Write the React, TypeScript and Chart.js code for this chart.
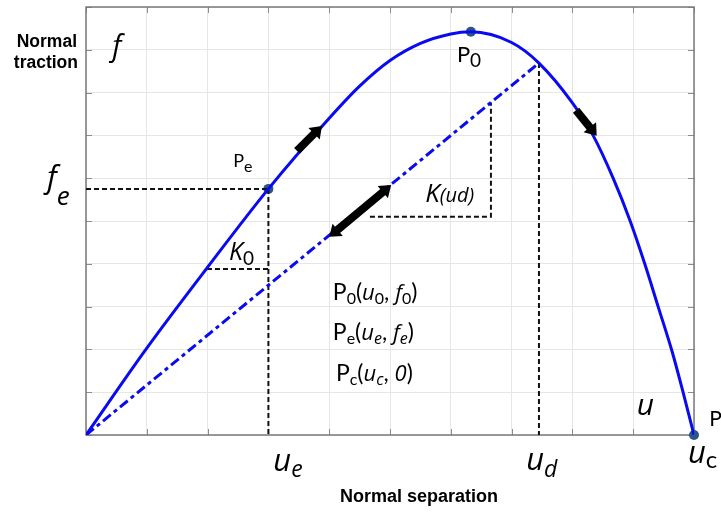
import React, { useEffect, useRef } from "react";
import { Chart, registerables } from "chart.js";

Chart.register(...registerables);

// Traction–separation curve (normalised units)
const curveU = [0, 1, 2, 3, 4, 4.5, 5, 5.5, 6, 6.33, 7, 7.45, 8, 8.34, 8.67, 8.95, 9.19, 9.41, 9.64, 9.82, 10];
const curveF = [0, 2.03, 3.92, 5.75, 7.4, 8.15, 8.75, 9.15, 9.37, 9.42, 9.17, 8.69, 7.76, 7.0, 6.0, 5.0, 4.0, 3.0, 1.95, 1.0, 0];

// Key points
const uE = 3, fE = 5.75;
const u0 = 6.33, f0 = 9.42;
const uD = 7.45, fD = 8.69;
const uC = 10, fC = 0;

// Stiffness triangles
const k0Tri = [[1.99, 3.88], [3, 3.88]];
const kudTri = [[4.67, 5.1], [6.66, 5.1], [6.66, 7.77]];

// Arrows: [fromU, fromF, toU, toF, doubleHeaded]
const arrows: [number, number, number, number, boolean][] = [
  [3.47, 6.64, 3.88, 7.22, false],
  [4.0, 4.63, 5.02, 5.84, true],
  [8.06, 7.59, 8.4, 6.99, false],
];

const axisTicks = [0, 1, 2, 3, 4, 5, 6, 7, 8, 9, 10];

const UP = (s: number) => `${s}px Lato`;
const IT = (s: number) => `italic ${s}px "Open Sans"`;

type Part = { t: string; f: string; dy?: number };
// Labels: [u, f (left / baseline in data units), parts]
const labels: [number, number, Part[]][] = [
  [0.43, 8.86, [{ t: "f", f: IT(29) }]],
  [-0.64, 5.77, [{ t: "f", f: IT(31) }, { t: "e", f: IT(26), dy: 17 }]],
  [2.42, 6.26, [{ t: "P", f: UP(18) }, { t: "e", f: UP(16), dy: 5 }]],
  [6.1, 8.71, [{ t: "P", f: UP(22) }, { t: "0", f: UP(19), dy: 5 }]],
  [2.35, 4.09, [{ t: "K", f: IT(25) }, { t: "0", f: UP(19), dy: 5 }]],
  [5.58, 5.44, [{ t: "K", f: IT(26) }, { t: "(ud)", f: IT(20) }]],
  [4.06, 3.15, [
    { t: "P", f: UP(23) }, { t: "0", f: UP(16), dy: 4 }, { t: "(", f: UP(23) },
    { t: "u", f: IT(22) }, { t: "0", f: UP(16), dy: 4 }, { t: ", ", f: UP(23) },
    { t: "f", f: IT(22) }, { t: "0", f: UP(16), dy: 4 }, { t: ")", f: UP(23) },
  ]],
  [4.06, 2.22, [
    { t: "P", f: UP(23) }, { t: "e", f: UP(16), dy: 4 }, { t: "(", f: UP(23) },
    { t: "u", f: IT(22) }, { t: "e", f: IT(16), dy: 4 }, { t: ", ", f: UP(23) },
    { t: "f", f: IT(22) }, { t: "e", f: IT(16), dy: 4 }, { t: ")", f: UP(23) },
  ]],
  [4.11, 1.26, [
    { t: "P", f: UP(23) }, { t: "c", f: UP(16), dy: 4 }, { t: "(", f: UP(23) },
    { t: "u", f: IT(22) }, { t: "c", f: IT(16), dy: 4 }, { t: ", ", f: UP(23) },
    { t: "0", f: IT(22) }, { t: ")", f: UP(23) },
  ]],
  [9.06, 0.47, [{ t: "u", f: IT(30) }]],
  [10.25, 0.21, [{ t: "P", f: UP(21) }]],
  [3.08, -0.84, [{ t: "u", f: IT(31) }, { t: "e", f: IT(23), dy: 6 }]],
  [7.24, -0.82, [{ t: "u", f: IT(31) }, { t: "d", f: IT(23), dy: 7 }]],
  [9.9, -0.65, [{ t: "u", f: IT(31) }, { t: "c", f: UP(24), dy: 5 }]],
];

const drawParts = (ctx: CanvasRenderingContext2D, parts: Part[], x: number, y: number) => {
  let cx = x;
  for (const p of parts) {
    ctx.font = p.f;
    ctx.fillText(p.t, cx, y + (p.dy || 0));
    cx += ctx.measureText(p.t).width;
  }
};

const drawArrow = (ctx: CanvasRenderingContext2D, x1: number, y1: number, x2: number, y2: number, both: boolean) => {
  const ang = Math.atan2(y2 - y1, x2 - x1);
  const hl = 11, hw = 8, sw = 4;
  const len = Math.hypot(x2 - x1, y2 - y1);
  ctx.save();
  ctx.translate(x1, y1);
  ctx.rotate(ang);
  ctx.fillStyle = "#000";
  const s0 = both ? hl - 1 : 0;
  ctx.fillRect(s0, -sw, len - hl + 1 - s0, sw * 2);
  ctx.beginPath();
  ctx.moveTo(len, 0);
  ctx.lineTo(len - hl, -hw);
  ctx.lineTo(len - hl, hw);
  ctx.closePath();
  ctx.fill();
  if (both) {
    ctx.beginPath();
    ctx.moveTo(0, 0);
    ctx.lineTo(hl, -hw);
    ctx.lineTo(hl, hw);
    ctx.closePath();
    ctx.fill();
  }
  ctx.restore();
};

const decor = {
  id: "decor",
  beforeDatasetsDraw(chart: any) {
    const { ctx, chartArea: a, scales } = chart;
    const xs = scales.x, ys = scales.y;
    ctx.save();
    ctx.strokeStyle = "#8c8c8c";
    ctx.lineWidth = 1;
    ctx.beginPath();
    for (const t of axisTicks) {
      const px = Math.round(xs.getPixelForValue(t)) + 0.5;
      ctx.moveTo(px, a.bottom);
      ctx.lineTo(px, a.bottom - 6);
      ctx.moveTo(px, a.top);
      ctx.lineTo(px, a.top + 6);
      const py = Math.round(ys.getPixelForValue(t)) + 0.5;
      ctx.moveTo(a.left, py);
      ctx.lineTo(a.left + 6, py);
      ctx.moveTo(a.right, py);
      ctx.lineTo(a.right - 6, py);
    }
    ctx.stroke();
    ctx.strokeStyle = "#7a7a7a";
    ctx.lineWidth = 1.5;
    ctx.strokeRect(a.left, a.top, a.right - a.left, a.bottom - a.top);
    ctx.restore();
  },
  afterDatasetsDraw(chart: any) {
    const { ctx, scales } = chart;
    const xs = scales.x, ys = scales.y;
    ctx.save();
    for (const [a, b, c, d, both] of arrows) {
      drawArrow(ctx, xs.getPixelForValue(a), ys.getPixelForValue(b), xs.getPixelForValue(c), ys.getPixelForValue(d), both);
    }
    ctx.restore();
  },
  afterDraw(chart: any) {
    const { ctx, chartArea: a, scales } = chart;
    const xs = scales.x, ys = scales.y;
    ctx.save();
    ctx.fillStyle = "#000";
    ctx.textBaseline = "alphabetic";
    ctx.textAlign = "left";
    for (const [u, f, parts] of labels) {
      drawParts(ctx, parts, xs.getPixelForValue(u), ys.getPixelForValue(f));
    }
    ctx.font = 'bold 17.5px "Liberation Sans"';
    ctx.textAlign = "right";
    ctx.fillText("Normal", a.left - 9, a.top + 40);
    ctx.fillText("traction", a.left - 8, a.top + 61);
    ctx.font = 'bold 18px "Liberation Sans"';
    ctx.textAlign = "center";
    ctx.fillText("Normal separation", (a.left + a.right) / 2 + 29, a.bottom + 67);
    ctx.restore();
  },
};

export default function App() {
  const ref = useRef<HTMLCanvasElement>(null);
  useEffect(() => {
    if (!ref.current) return;
    const dash = [5, 3];
    const pts = (arr: number[][]) => arr.map(([x, y]) => ({ x, y }));
    const chart = new Chart(ref.current, {
      type: "line",
      data: {
        datasets: [
          {
            data: curveU.map((u, i) => ({ x: u, y: curveF[i] })),
            borderColor: "#0a0af2",
            borderWidth: 3,
            pointRadius: 0,
            cubicInterpolationMode: "monotone",
          },
          {
            data: pts([[0, 0], [uD, fD]]),
            borderColor: "#0a0af2",
            borderWidth: 3,
            borderDash: [10, 4, 4, 4],
            pointRadius: 0,
          },
          { data: pts([[0, fE], [uE, fE]]), borderColor: "#111", borderWidth: 2, borderDash: dash, pointRadius: 0 },
          { data: pts([[uE, fE], [uE, 0]]), borderColor: "#111", borderWidth: 2, borderDash: dash, pointRadius: 0 },
          { data: pts(k0Tri), borderColor: "#111", borderWidth: 2, borderDash: dash, pointRadius: 0 },
          { data: pts(kudTri), borderColor: "#111", borderWidth: 2, borderDash: dash, pointRadius: 0 },
          { data: pts([[uD, fD], [uD, 0]]), borderColor: "#111", borderWidth: 2, borderDash: dash, pointRadius: 0 },
          {
            data: pts([[uE, fE], [u0, f0], [uC, fC]]),
            showLine: false,
            pointRadius: 5,
            pointBackgroundColor: "#2a5587",
            pointBorderColor: "#2a5587",
            pointBorderWidth: 0,
            clip: false,
          } as any,
        ],
      },
      options: {
        animation: false,
        responsive: false,
        maintainAspectRatio: false,
        layout: { padding: { left: 86, right: 27, top: 7, bottom: 77 } },
        plugins: { legend: { display: false }, tooltip: { enabled: false } },
        scales: {
          x: {
            type: "linear",
            min: 0,
            max: 10,
            ticks: { display: false, stepSize: 1 },
            grid: { color: "#e6e6e6", drawTicks: false },
            border: { display: false },
          },
          y: {
            type: "linear",
            min: 0,
            max: 10,
            ticks: { display: false, stepSize: 1 },
            grid: { color: "#e6e6e6", drawTicks: false },
            border: { display: false },
          },
        },
      },
      plugins: [decor],
    } as any);
    return () => chart.destroy();
  }, []);
  return (
    <div style={{ position: "absolute", left: 0, top: 0, width: 721, height: 512, background: "#fff" }}>
      <canvas ref={ref} width={721} height={512} style={{ display: "block" }} />
    </div>
  );
}
